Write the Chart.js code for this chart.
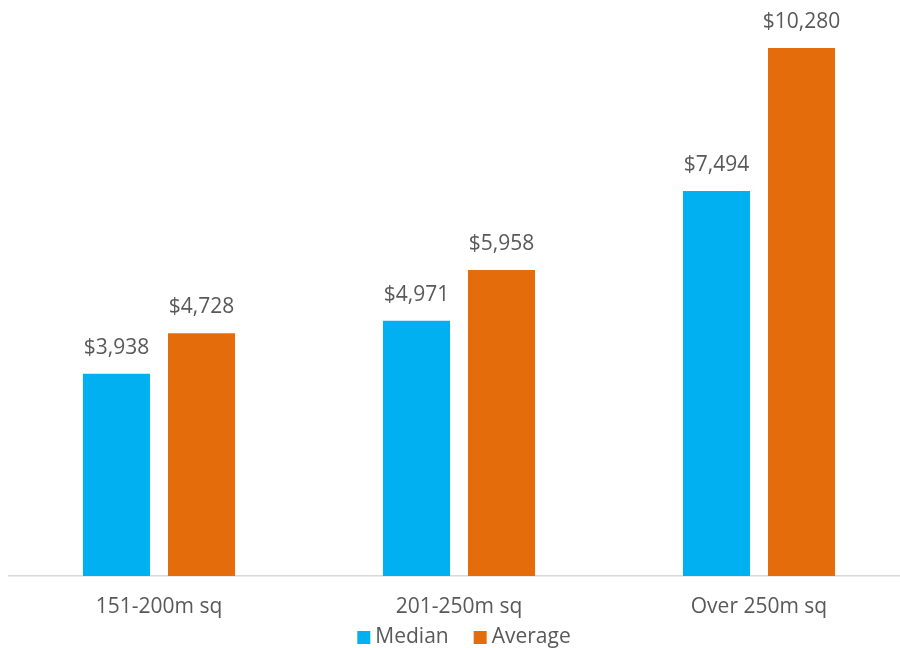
<!DOCTYPE html>
<html>
<head>
<meta charset="utf-8">
<script src="https://cdn.jsdelivr.net/npm/chart.js@4.4.1/dist/chart.umd.min.js"></script>
<style>
    html, body { margin: 0; padding: 0; background: #fff; overflow: hidden; }
    #wrap { width: 909px; height: 648px; }
</style>
</head>
<body>
<div id="wrap"><canvas id="costChart"></canvas></div>
<script>
const categories = ["151-200m sq", "201-250m sq", "Over 250m sq"];
const medianValues = [3938, 4971, 7494];
const averageValues = [4728, 5958, 10280];

const textColor = "#595959";
const fontFamily = "'Open Sans', sans-serif";
const labelFont = "21px " + fontFamily;

// writes "$x,xxx" above every bar
const valueLabels = {
    id: "valueLabels",
    afterDatasetsDraw(chart) {
        const ctx = chart.ctx;
        ctx.save();
        ctx.font = labelFont;
        ctx.fillStyle = textColor;
        ctx.textAlign = "center";
        ctx.textBaseline = "middle";
        chart.data.datasets.forEach(function(ds, i) {
            chart.getDatasetMeta(i).data.forEach(function(bar, j) {
                ctx.fillText("$" + ds.data[j].toLocaleString("en-US"), bar.x, bar.y - 26);
            });
        });
        ctx.restore();
    }
};

// compact legend under the axis: small square, tight gap, then the name
const bottomLegend = {
    id: "bottomLegend",
    afterDraw(chart) {
        const ctx = chart.ctx;
        const box = 13, gap = 5, spacing = 25;
        const cy = 637.5;
        ctx.save();
        ctx.font = labelFont;
        ctx.textBaseline = "middle";
        ctx.textAlign = "left";
        const items = chart.data.datasets.map(function(ds) {
            return { label: ds.label, color: ds.backgroundColor, w: ctx.measureText(ds.label).width };
        });
        let total = 0;
        items.forEach(function(it, i) {
            total += box + gap + it.w + (i > 0 ? spacing : 0);
        });
        let x = 464 - total / 2;
        items.forEach(function(it) {
            ctx.fillStyle = it.color;
            ctx.fillRect(x, cy - box / 2, box, box);
            ctx.fillStyle = textColor;
            ctx.fillText(it.label, x + box + gap, cy);
            x += box + gap + it.w + spacing;
        });
        ctx.restore();
    }
};

new Chart(document.getElementById("costChart"), {
    type: "bar",
    data: {
        labels: categories,
        datasets: [{
            label: "Median",
            data: medianValues,
            backgroundColor: "#00B0F0",
            categoryPercentage: 0.567,
            barPercentage: 0.788
        }, {
            label: "Average",
            data: averageValues,
            backgroundColor: "#E46C0A",
            categoryPercentage: 0.567,
            barPercentage: 0.788
        }]
    },
    options: {
        responsive: true,
        maintainAspectRatio: false,
        animation: false,
        layout: { padding: { left: 9, top: 0, right: 0, bottom: 22 } },
        plugins: {
            tooltip: { enabled: false },
            legend: { display: false }
        },
        scales: {
            x: {
                grid: { display: false, drawTicks: false },
                border: { display: true, color: "#D9D9D9", width: 1.5 },
                ticks: {
                    padding: 18,
                    color: textColor,
                    font: { family: fontFamily, size: 21 }
                },
                afterFit(scale) {
                    scale.height = 50;
                }
            },
            y: {
                display: false,
                min: 0,
                max: 11215
            }
        }
    },
    plugins: [valueLabels, bottomLegend]
});
</script>
</body>
</html>
